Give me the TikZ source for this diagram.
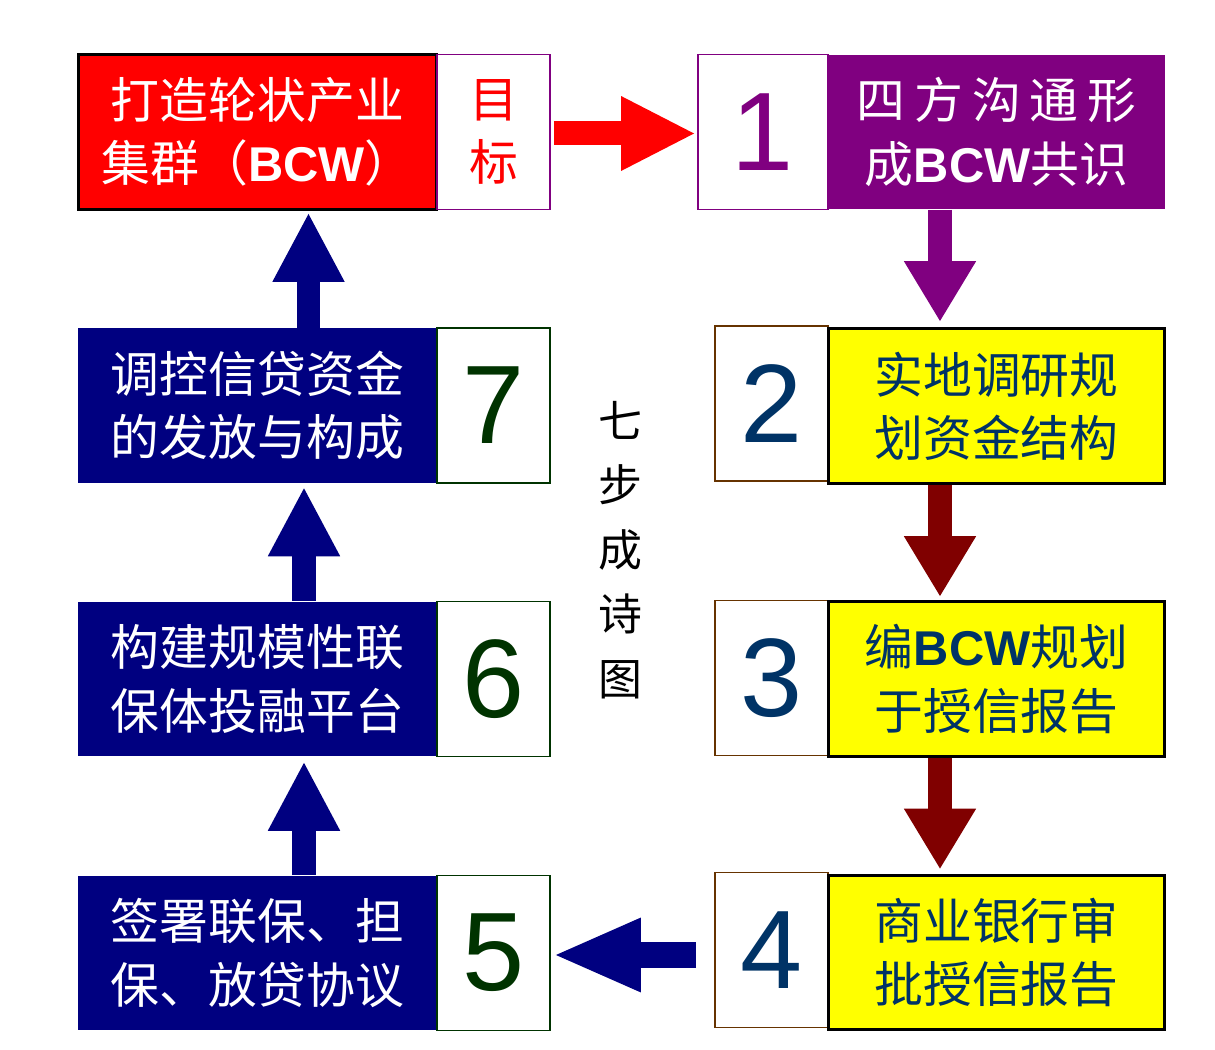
\documentclass[tikz,border=0pt]{standalone}
\usepackage{fontspec}
\setmainfont{Liberation Sans}
\newfontfamily\latin{Liberation Sans}
\newfontfamily\cjk{Noto Sans CJK SC}
\usepackage{tikz}
\usetikzlibrary{arrows.meta,calc}
\definecolor{RojoMeta}{RGB}{255,0,0}
\definecolor{MoradoPaso}{RGB}{128,0,128}
\definecolor{AmarilloPaso}{RGB}{255,255,0}
\definecolor{AzulPaso}{RGB}{0,0,128}
\definecolor{AzulTexto}{RGB}{0,51,102}
\definecolor{VerdeNum}{RGB}{0,51,0}
\definecolor{CafeBorde}{RGB}{102,51,0}
\definecolor{GranateFlecha}{RGB}{128,0,0}
\newcommand{\BCW}{{\latin\bfseries BCW}}

\begin{document}
\begin{tikzpicture}[x=0.02cm,y=-0.02cm,
  caja/.style={rectangle,inner sep=0pt,minimum height=3.1cm,align=center,
    font=\cjk\fontsize{27.8}{36}\selectfont},
  texto/.style={caja,minimum width=6.74cm},
  izq/.style={caja,minimum width=7.18cm,fill=AzulPaso,text=white},
  num/.style={caja,minimum width=2.26cm,fill=white,line width=1.1pt,
    font=\latin\fontsize{63.5}{70}\selectfont},
  flecha/.style={line width=0.48cm,-{Triangle[length=1.2cm,width=1.45cm,line width=0pt]}},
  flechaArriba/.style={line width=0.48cm,-{Triangle[length=1.36cm,width=1.45cm,line width=0pt]}}]
  \useasboundingbox (0,0) rectangle (1215,1050);
  % meta
  \node[caja,minimum width=7.18cm,fill=RojoMeta,text=white,draw=black,line width=1.7pt] (meta) at (257.5,132) {打造轮状产业\\集群（\BCW）};
  \node[caja,minimum width=2.26cm,draw=MoradoPaso,line width=1.1pt,text=RojoMeta] (objetivo) at (493.5,132) {目\\标};
  % pasos de la derecha
  \node[num,minimum width=2.6cm,draw=MoradoPaso,text=MoradoPaso] (n1) at (763,132) {1};
  \node[texto,fill=MoradoPaso,text=white] (p1) at (996.5,132) {四\hspace{5pt}方\hspace{5pt}沟\hspace{5pt}通\hspace{5pt}形\\成\BCW 共识};
  \node[num,draw=CafeBorde,text=AzulTexto] (n2) at (771.5,403.5) {2};
  \node[texto,fill=AmarilloPaso,draw=black,line width=1.7pt,text=AzulTexto] (p2) at (996.5,406) {实地调研规\\划资金结构};
  \node[num,draw=CafeBorde,text=AzulTexto] (n3) at (771.5,678) {3};
  \node[texto,fill=AmarilloPaso,draw=black,line width=1.7pt,text=AzulTexto] (p3) at (996.5,679) {编\BCW 规划\\于授信报告};
  \node[num,draw=CafeBorde,text=AzulTexto] (n4) at (771.5,950) {4};
  \node[texto,fill=AmarilloPaso,draw=black,line width=1.7pt,text=AzulTexto] (p4) at (996.5,952.5) {商业银行审\\批授信报告};
  % pasos de la izquierda
  \node[izq] (p5) at (257.5,953) {签署联保、担\\保、放贷协议};
  \node[num,draw=VerdeNum,text=VerdeNum] (n5) at (493.5,953) {5};
  \node[izq] (p6) at (257.5,679) {构建规模性联\\保体投融平台};
  \node[num,draw=VerdeNum,text=VerdeNum] (n6) at (493.5,679) {6};
  \node[izq] (p7) at (257.5,405.5) {调控信贷资金\\的发放与构成};
  \node[num,draw=VerdeNum,text=VerdeNum] (n7) at (493.5,405.5) {7};
  \node[font=\cjk\fontsize{25}{36.8}\selectfont,align=center] (titulo) at (620,550) {七\\步\\成\\诗\\图};
  % flechas
  \draw[RojoMeta,line width=0.48cm,-{Triangle[length=1.46cm,width=1.5cm,line width=0pt]},
    shorten <=0.06cm,shorten >=0.06cm] ($(objetivo.east)+(0,1.5)$) -- ($(n1.west)+(0,1.5)$);
  \draw[flecha,MoradoPaso,shorten >=0.12cm] ($(p1.south)+(-56.5,0)$) -- ($(p2.north)+(-56.5,0)$);
  \draw[flecha,GranateFlecha,shorten >=0.08cm] ($(p2.south)+(-56.5,0)$) -- ($(p3.north)+(-56.5,0)$);
  \draw[flecha,GranateFlecha,shorten >=0.1cm] ($(p3.south)+(-56.5,0)$) -- ($(p4.north)+(-56.5,0)$);
  \draw[AzulPaso,line width=0.52cm,-{Triangle[length=1.7cm,width=1.5cm,line width=0pt]},
    shorten <=0.36cm,shorten >=0.1cm] ($(n4.west)+(0,5)$) -- ($(n5.east)+(0,2)$);
  \draw[flechaArriba,AzulPaso,shorten >=0.12cm] ($(p5.north)+(46.5,0)$) -- ($(p6.south)+(46.5,0)$);
  \draw[flechaArriba,AzulPaso,shorten >=0.1cm] ($(p6.north)+(46.5,0)$) -- ($(p7.south)+(46.5,0)$);
  \draw[flechaArriba,AzulPaso,shorten >=0.06cm] ($(p7.north)+(51,0)$) -- ($(meta.south)+(51,0)$);
\end{tikzpicture}
\end{document}
